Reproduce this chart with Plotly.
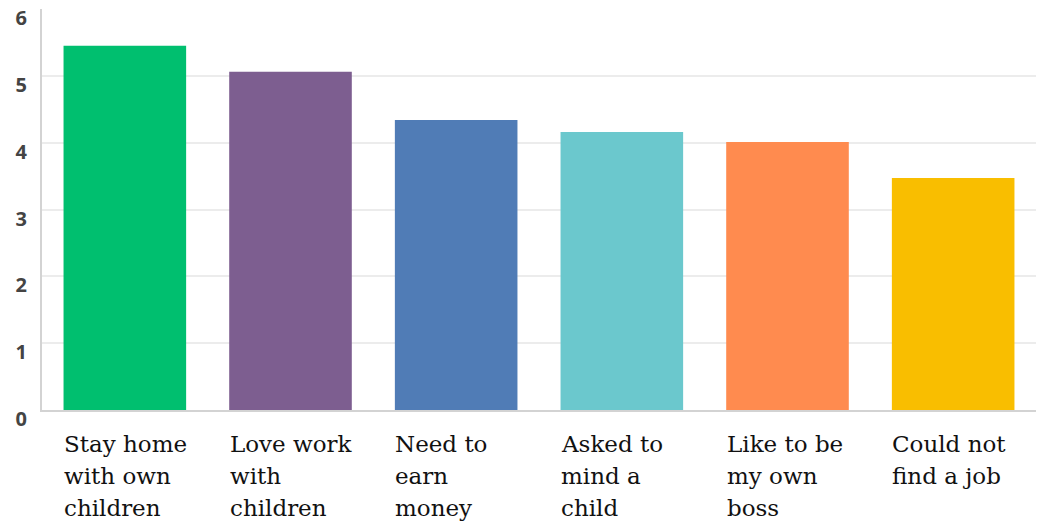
import plotly.graph_objects as go

# Reasons for starting a childcare business, average rating
categories = [
    "Stay home with own children",
    "Love work with children",
    "Need to earn money",
    "Asked to mind a child",
    "Like to be my own boss",
    "Could not find a job",
]
label_lines = [
    ["Stay home", "with own", "children"],
    ["Love work", "with", "children"],
    ["Need to", "earn", "money"],
    ["Asked to", "mind a", "child"],
    ["Like to be", "my own", "boss"],
    ["Could not", "find a job"],
]
values = [5.45, 5.06, 4.34, 4.16, 4.01, 3.47]
colors = ["#00BF6F", "#7D5E90", "#507CB6", "#6BC8CD", "#FF8B4F", "#F9BE00"]

fig = go.Figure(
    go.Bar(
        x=categories,
        y=values,
        marker=dict(color=colors, line=dict(width=0)),
        hoverinfo="x+y",
    )
)

# Left-aligned multi-line category labels under each bar
bar_half = 0.38
line_step = 32
annotations = []
for i, lines in enumerate(label_lines):
    for j, line in enumerate(lines):
        annotations.append(
            dict(
                x=i - bar_half,
                xref="x",
                y=0,
                yref="paper",
                xanchor="left",
                yanchor="top",
                yshift=-19 - j * line_step,
                text=line,
                showarrow=False,
                align="left",
                font=dict(family="DejaVu Serif", size=23, color="#111111"),
            )
        )

fig.update_layout(
    width=1038,
    height=524,
    margin=dict(l=42, r=2, t=9, b=114),
    paper_bgcolor="white",
    plot_bgcolor="white",
    bargap=0.26,
    showlegend=False,
    annotations=annotations,
    xaxis=dict(
        showticklabels=False,
        showline=True,
        linecolor="#d3d3d3",
        linewidth=2,
        showgrid=False,
        ticks="",
        automargin=False,
    ),
    yaxis=dict(
        range=[0, 6],
        tickvals=[0, 1, 2, 3, 4, 5, 6],
        showline=True,
        linecolor="#d3d3d3",
        linewidth=2,
        showgrid=True,
        gridcolor="#ececec",
        gridwidth=1.5,
        zeroline=False,
        ticks="",
        automargin=False,
        ticklabelstandoff=9,
        ticklabelshift=9,
        ticklabeloverflow="allow",
        tickfont=dict(family="Open Sans", size=20, color="#444444", weight="bold"),
    ),
)

fig.write_html("out.html")
